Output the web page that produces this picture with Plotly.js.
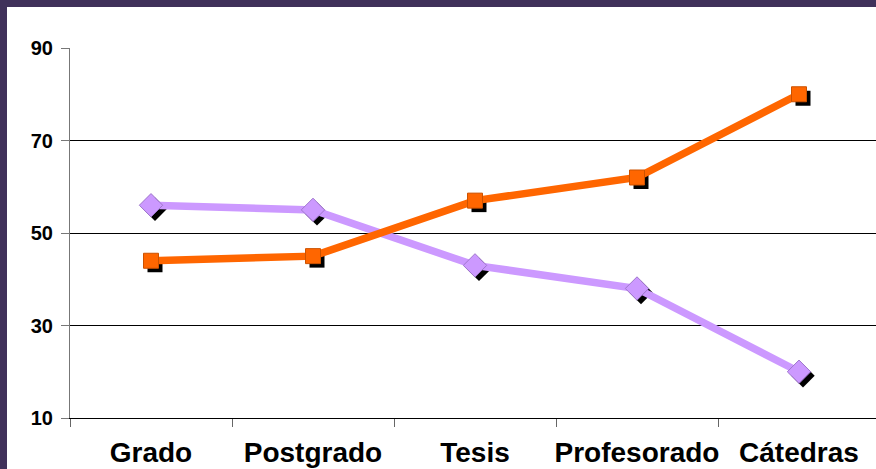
<!DOCTYPE html>
<html>
<head>
<meta charset="utf-8">
<script src="https://cdn.plot.ly/plotly-3.0.1.min.js"></script>
<style>
  html, body { margin: 0; padding: 0; background: #40315a; width: 876px; height: 469px; overflow: hidden; }
  #chart { position: absolute; left: 7px; top: 7px; width: 869px; height: 462px; }
</style>
</head>
<body>
<div id="chart"></div>
<script>
const categories = ["Grado", "Postgrado", "Tesis", "Profesorado", "Cátedras"];
const seriesOrange = [44, 45, 57, 62, 80];
const seriesPurple = [56, 55, 43, 38, 20];
const yTickVals = [10, 30, 50, 70, 90];

const W = 869, H = 462;
const margin = { l: 63, r: 0, t: 41, b: 51 };
const plotW = W - margin.l - margin.r;
const plotH = H - margin.t - margin.b;
const xRange = [-0.5, -0.5 + plotW / 162];
const yRange = [10, 90];
// shadow offset in pixels, converted to axis units
const sx = 4, sy = 4;
const dx = sx * (xRange[1] - xRange[0]) / plotW;
const dy = sy * (yRange[1] - yRange[0]) / plotH;

const catIdx = categories.map((c, i) => i);

const traces = [
  { x: catIdx, y: seriesOrange, xaxis: 'x', yaxis: 'y', mode: 'markers', hoverinfo: 'skip',
    marker: { symbol: 'square', size: 15, color: '#000' }, showlegend: false },
  { x: catIdx, y: seriesPurple, xaxis: 'x', yaxis: 'y', mode: 'markers', hoverinfo: 'skip',
    marker: { symbol: 'diamond', size: 18, color: '#000' }, showlegend: false },
  { x: categories, y: seriesPurple, xaxis: 'x2', yaxis: 'y2', mode: 'lines+markers',
    line: { color: '#cc99ff', width: 7.5 },
    marker: { symbol: 'diamond', size: 18, color: '#cc99ff', line: { color: '#9f77cc', width: 1 } }, showlegend: false },
  { x: categories, y: seriesOrange, xaxis: 'x2', yaxis: 'y2', mode: 'lines+markers',
    line: { color: '#ff6600', width: 7.5 },
    marker: { symbol: 'square', size: 15, color: '#ff6600', line: { color: '#cc5200', width: 1 } }, showlegend: false }
];

const layout = {
  width: W, height: H,
  margin: margin,
  paper_bgcolor: '#ffffff',
  plot_bgcolor: 'rgba(0,0,0,0)',
  font: { family: 'Liberation Sans, Arial, sans-serif', color: '#000' },
  xaxis: { visible: false, range: [xRange[0] - dx, xRange[1] - dx], fixedrange: true, showgrid: false, zeroline: false },
  yaxis: { visible: false, range: [yRange[0] + dy, yRange[1] + dy], fixedrange: true, showgrid: false, zeroline: false },
  xaxis2: {
    overlaying: 'x', anchor: 'y2', type: 'category', categoryarray: categories, categoryorder: 'array',
    range: xRange, showgrid: false, zeroline: false, automargin: false,
    showline: true, linecolor: '#000', linewidth: 1,
    ticks: 'outside', tickson: 'boundaries', ticklen: 8, tickcolor: '#666', tickwidth: 1,
    tickangle: 0,
    tickfont: { size: 28, family: 'Liberation Sans, Arial, sans-serif', weight: 'bold', color: '#000' },
    ticklabelstandoff: 9
  },
  yaxis2: {
    overlaying: 'y', anchor: 'x2', side: 'left', automargin: false,
    range: yRange, tickvals: yTickVals, ticktext: yTickVals.map(String),
    showgrid: true, gridcolor: '#000', gridwidth: 1, zeroline: false,
    showline: true, linecolor: '#777', linewidth: 1,
    ticks: 'outside', ticklen: 8, tickcolor: '#777', tickwidth: 1,
    tickfont: { size: 20, family: 'Liberation Sans, Arial, sans-serif', weight: 'bold', color: '#000' },
    ticklabelstandoff: 4
  }
};

Plotly.newPlot('chart', traces, layout, { staticPlot: true, displayModeBar: false });
</script>
</body>
</html>
